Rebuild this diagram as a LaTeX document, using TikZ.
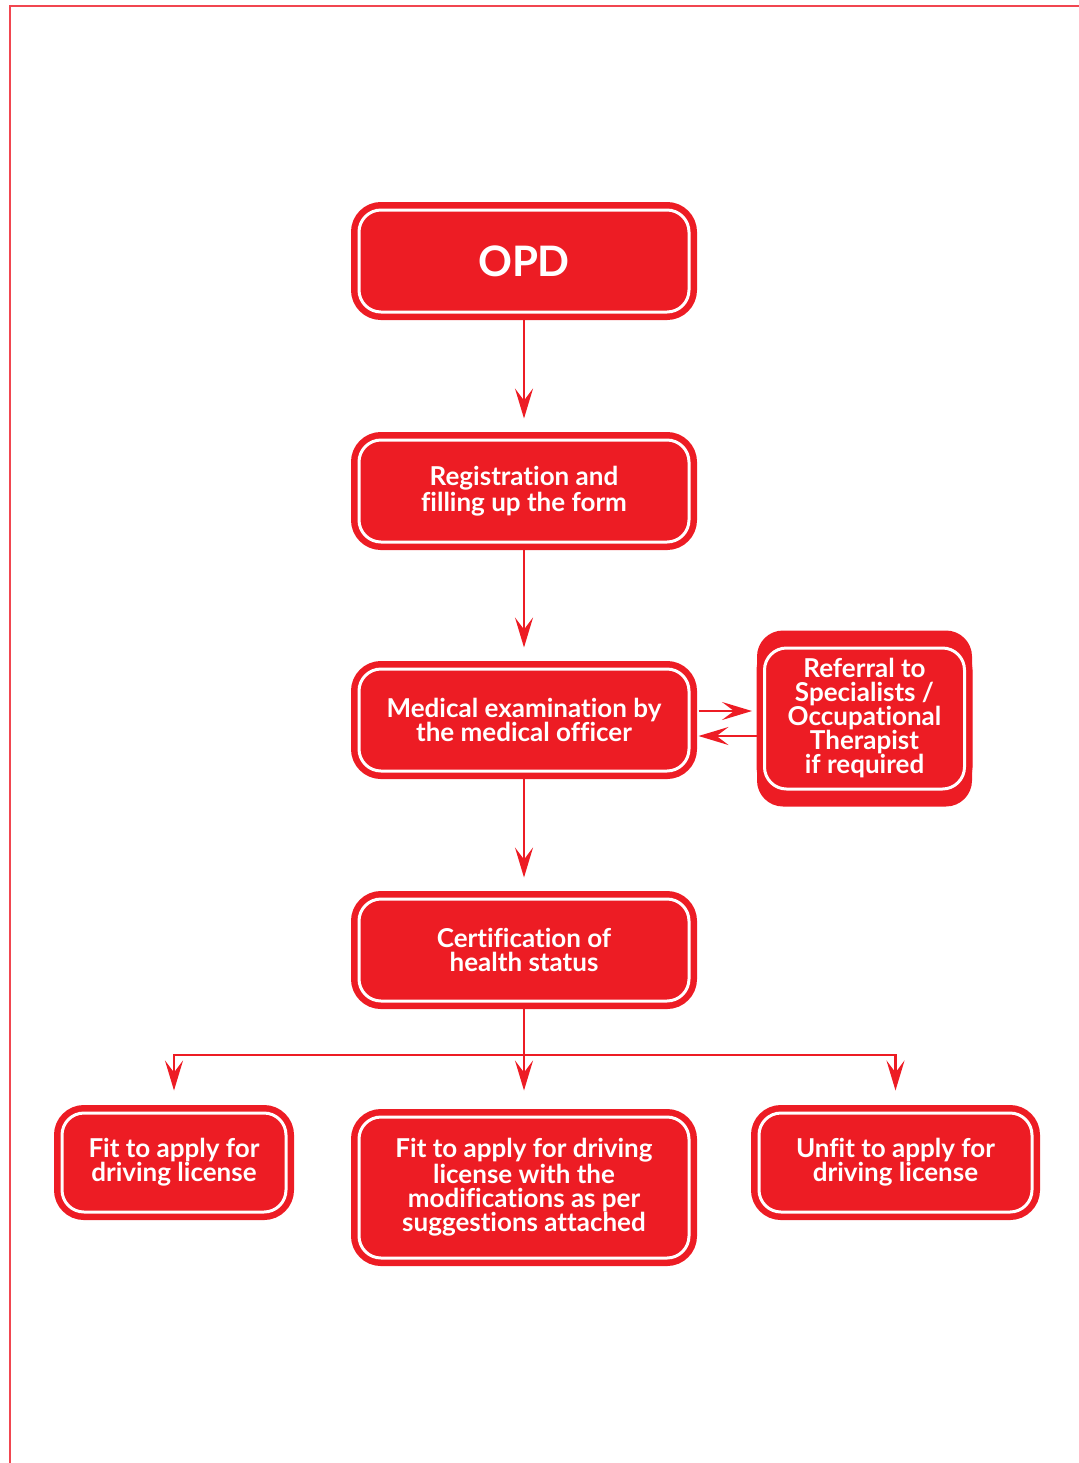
\documentclass[tikz,border=0pt]{standalone}
\usepackage{fontspec}
\setmainfont{Lato}[Ligatures={NoCommon}]
\usetikzlibrary{arrows.meta, positioning, backgrounds}
\definecolor{boxred}{RGB}{237, 28, 36}
\definecolor{framered}{RGB}{241, 70, 80}

\begin{document}
\begin{tikzpicture}[x=0.5pt, y=-0.5pt,
    flowbox/.style={draw=white, line width=1.5pt, fill=boxred,
      rounded corners=11pt, text=white, align=center, inner sep=0pt,
      font=\bfseries\fontsize{13}{12}\selectfont,
      preaction={draw=boxred, line width=8pt}},
    flowline/.style={boxred, line width=1.25pt},
    flowarrow/.style={flowline,
      -{Stealth[length=15pt, width=9pt, inset=6pt]}}]
  \useasboundingbox (0,0) rectangle (1079,1463);
  \draw[framered, line width=1pt] (1079,6) -- (10,6) -- (10,1463);

  % main column
  \node[flowbox, minimum width=165pt, minimum height=51pt,
        font=\bfseries\fontsize{21}{21}\selectfont] (opd) at (524,261) {OPD};
  \node[flowbox, minimum width=165pt, minimum height=51pt]
        (reg) at (524,491) {Registration and\\filling up the form};
  \node[flowbox, minimum width=165pt, minimum height=51pt]
        (med) at (524,720) {Medical examination by\\the medical officer};
  \node[flowbox, minimum width=100pt, minimum height=70.5pt]
        (ref) at (864.5,718.5) {Referral to\\Specialists /\\Occupational\\Therapist\\if required};
  \node[flowbox, minimum width=165pt, minimum height=51pt]
        (cert) at (524,950) {Certification of\\health status};

  % outcomes
  \node[flowbox, minimum width=112pt, minimum height=49.5pt]
        (fit) at (174,1162.5) {Fit to apply for\\driving license};
  \node[flowbox, minimum width=165pt, minimum height=70.5pt]
        (fitmod) at (524,1187.5) {Fit to apply for driving\\license with the\\modifications as per\\suggestions attached};
  \node[flowbox, minimum width=136.5pt, minimum height=49.5pt]
        (unfit) at (895.5,1162.5) {Unfit to apply for\\driving license};

  \begin{scope}[on background layer]
    \fill[boxred, rounded corners=13pt]
      ([shift={(-3pt,8pt)}]ref.north west) rectangle ([shift={(3pt,-8pt)}]ref.south east);
  \end{scope}

  \draw[flowarrow, shorten <=1pt, shorten >=10pt] (opd) -- (reg);
  \draw[flowarrow, shorten <=1pt, shorten >=10pt] (reg) -- (med);
  \draw[flowarrow, shorten <=1pt, shorten >=10pt] (med) -- (cert);

  \draw[flowarrow, shorten <=4pt, shorten >=5.5pt]
    ([yshift=4.5pt]med.east) -- ([yshift=4.5pt]med.east -| ref.west);
  \draw[flowarrow, shorten <=3pt, shorten >=4pt]
    ([yshift=-8pt]med.east -| ref.west) -- ([yshift=-8pt]med.east);

  \coordinate (split) at (524,1055);
  \draw[flowline, shorten <=1pt] (cert) -- (split);
  \draw[flowarrow, shorten >=10.5pt] (split) -| (fit);
  \draw[flowarrow, shorten >=12.5pt] (split) -- (fitmod);
  \draw[flowarrow, shorten >=10.5pt] (split) -| (unfit);
\end{tikzpicture}
\end{document}
